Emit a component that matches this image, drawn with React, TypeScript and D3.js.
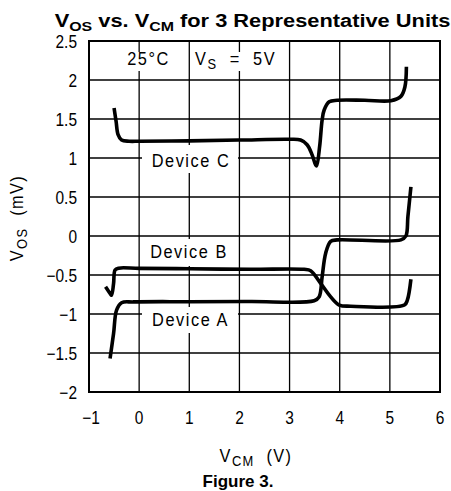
import React from "react";
import * as d3 from "d3";

const xTicks = [-1, 0, 1, 2, 3, 4, 5, 6];
const yTicks = [2.5, 2, 1.5, 1, 0.5, 0, -0.5, -1, -1.5, -2];

const deviceC: [number, number][] = [
  [-0.5, 1.64], [-0.46, 1.47], [-0.42, 1.3], [-0.35, 1.23], [-0.2, 1.215], [0, 1.215],
  [1, 1.22], [2, 1.23], [3, 1.24], [3.22, 1.23], [3.35, 1.17], [3.45, 1.04],
  [3.52, 0.91], [3.54, 0.9], [3.6, 1.15], [3.65, 1.49], [3.69, 1.615], [3.79, 1.72],
  [3.95, 1.74], [4.5, 1.74], [5.02, 1.735], [5.22, 1.79], [5.3, 1.91], [5.33, 2.17],
];

const deviceB: [number, number][] = [
  [-0.67, -0.65], [-0.58, -0.735], [-0.55, -0.76], [-0.51, -0.61], [-0.48, -0.436],
  [-0.41, -0.412], [0, -0.415], [1, -0.42], [2.22, -0.427], [3.29, -0.427],
  [3.42, -0.445], [3.62, -0.607], [3.82, -0.78], [3.99, -0.885], [4.22, -0.9],
  [5.29, -0.885], [5.35, -0.82], [5.42, -0.555],
];

const deviceA: [number, number][] = [
  [-0.58, -1.57], [-0.51, -1.25], [-0.45, -0.95], [-0.35, -0.855], [-0.11, -0.845],
  [1, -0.842], [2.22, -0.84], [3.49, -0.83], [3.59, -0.78], [3.65, -0.52],
  [3.72, -0.22], [3.82, -0.07], [3.95, -0.05], [5.22, -0.05], [5.32, 0.0],
  [5.36, 0.25], [5.42, 0.63],
];

const W = 451;
const H = 491;
const L = 89, R = 440, T = 41, B = 392;

const font = "'Liberation Sans', Arial, Helvetica, sans-serif";
const NARROW = 0.86;

export default function App() {
  const x = d3.scaleLinear().domain([-1, 6]).range([L, R]);
  const y = d3.scaleLinear().domain([-2, 2.5]).range([B, T]);
  const line = d3
    .line<[number, number]>()
    .x((d) => x(d[0]))
    .y((d) => y(d[1]))
    .curve(d3.curveCatmullRom.alpha(0.5));

  const fmt = (v: number) => (v < 0 ? "\u2212" + String(-v) : String(v));

  const labelBoxes = [
    { x0: 126, x1: 171, y0: 52, y1: 71 },
    { x0: 193, x1: 282, y0: 52, y1: 71 },
    { x0: 142, x1: 238, y0: 145, y1: 173 },
    { x0: 142, x1: 237, y0: 239, y1: 266 },
    { x0: 142, x1: 238, y0: 307, y1: 333 },
  ];

  const tr = (px: number, py: number, rot = 0) =>
    `translate(${px},${py})${rot ? ` rotate(${rot})` : ""} scale(${NARROW},1)`;

  return (
    <div style={{ position: "absolute", left: 0, top: 0 }}>
      <svg width={W} height={H} style={{ display: "block", background: "#fff" }}>
        {/* title */}
        <g transform={`translate(252.5,27) scale(1.18,1)`}>
          <text textAnchor="middle" fontFamily={font} fontWeight="bold" fontSize={18.5} fill="#000">
            <tspan>V</tspan>
            <tspan fontSize={13.5} dy={4}>OS</tspan>
            <tspan dy={-4}> vs. V</tspan>
            <tspan fontSize={13.5} dy={4}>CM</tspan>
            <tspan dy={-4}> for 3 Representative Units</tspan>
          </text>
        </g>

        {/* grid */}
        {xTicks.slice(1, -1).map((t) => (
          <line key={"gx" + t} x1={x(t)} x2={x(t)} y1={T} y2={B} stroke="#000" strokeWidth={1.3} />
        ))}
        {yTicks.slice(1, -1).map((t) => (
          <line key={"gy" + t} x1={L} x2={R} y1={y(t)} y2={y(t)} stroke="#000" strokeWidth={1.3} />
        ))}

        {/* label backgrounds */}
        {labelBoxes.map((b, i) => (
          <rect key={"lb" + i} x={b.x0} y={b.y0} width={b.x1 - b.x0} height={b.y1 - b.y0} fill="#fff" />
        ))}

        {/* border */}
        <rect x={L} y={T} width={R - L} height={B - T} fill="none" stroke="#000" strokeWidth={2} />

        {/* curves */}
        {[deviceA, deviceB, deviceC].map((d, i) => (
          <path
            key={"c" + i}
            d={line(d) || ""}
            fill="none"
            stroke="#000"
            strokeWidth={3.6}
            strokeLinejoin="round"
            strokeLinecap="butt"
          />
        ))}

        {/* annotations */}
        <g fontFamily={font} fontSize={19} fill="#000" letterSpacing={1.8}>
          <text transform={tr(148.5, 65)} textAnchor="middle">25°C</text>
          <text transform={tr(195, 65)} xmlSpace="preserve">
            <tspan>V</tspan>
            <tspan fontSize={15} dy={4}>S</tspan>
            <tspan dy={-4}>{"  =  5V"}</tspan>
          </text>
          <text transform={tr(191, 166.5)} textAnchor="middle">Device C</text>
          <text transform={tr(189, 257.5)} textAnchor="middle">Device B</text>
          <text transform={tr(190.5, 326)} textAnchor="middle">Device A</text>
        </g>

        {/* tick labels */}
        <g fontFamily={font} fontSize={18} fill="#000">
          {yTicks.map((t) => (
            <text key={"yl" + t} transform={tr(77, y(t) + 6.5)} textAnchor="end">
              {fmt(t)}
            </text>
          ))}
          {xTicks.map((t) => (
            <text key={"xl" + t} transform={tr(x(t) + (t < 0 ? 2 : 0), 423.5)} textAnchor="middle">
              {fmt(t)}
            </text>
          ))}
        </g>

        {/* axis titles */}
        <g fontFamily={font} fontSize={19} fill="#000" letterSpacing={1.6}>
          <text transform={`translate(23,218) rotate(-90) scale(${NARROW},1)`} textAnchor="middle" xmlSpace="preserve">
            <tspan>V</tspan>
            <tspan fontSize={15} dy={4}>OS</tspan>
            <tspan dy={-4}>{"  (mV)"}</tspan>
          </text>
          <text transform={tr(256, 462)} textAnchor="middle" xmlSpace="preserve">
            <tspan>V</tspan>
            <tspan fontSize={15} dy={4}>CM</tspan>
            <tspan dy={-4}>{"  (V)"}</tspan>
          </text>
        </g>

        <text x={238} y={487} textAnchor="middle" fontFamily={font} fontWeight="bold" fontSize={17} fill="#000">
          Figure 3.
        </text>
      </svg>
    </div>
  );
}
